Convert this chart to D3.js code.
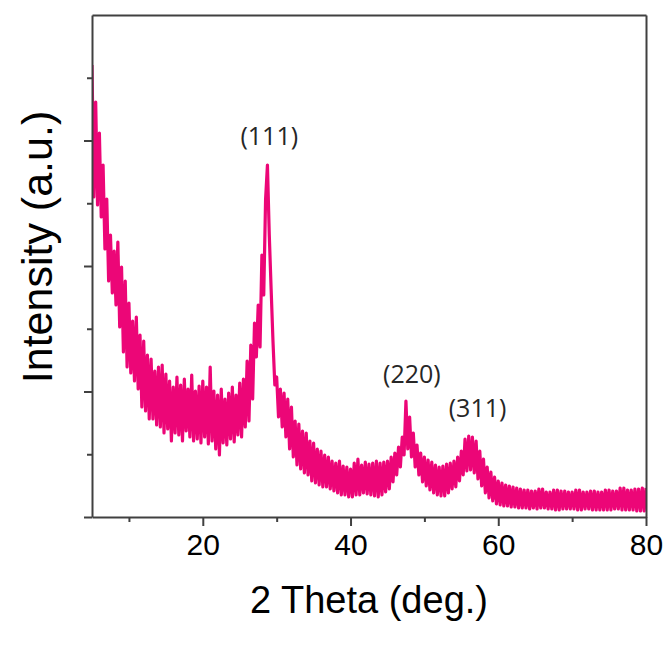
<!DOCTYPE html>
<html>
<head>
<meta charset="utf-8">
<script src="https://cdn.jsdelivr.net/npm/d3@7"></script>
<style>
  body { margin: 0; background: #fff; }
</style>
</head>
<body>
<div id="chart"></div>
<script>
// 2 theta sampled every 0.25 deg from 5 to 80
const thetaStart = 5, thetaStep = 0.25;

// intensity (a.u.), one row per degree
const intensity = [
  452, 320, 415, 312,   // 5
  384, 300, 352, 268,   // 6
  318, 236, 282, 224,   // 7
  266, 212, 275, 190,   // 8
  250, 165, 236, 150,   // 9
  214, 144, 196, 136,   // 10
  200, 128, 182, 110,   // 11
  176, 106, 162, 98,    // 12
  158, 98, 146, 92,     // 13
  150, 90, 152, 84,     // 14
  143, 88, 136, 76,     // 15
  130, 84, 140, 82,     // 16
  132, 76, 138, 86,     // 17
  128, 80, 142, 76,     // 18
  126, 78, 131, 74,     // 19
  136, 80, 130, 73,     // 20
  150, 76, 126, 68,     // 21
  122, 62, 128, 74,     // 22
  118, 72, 124, 78,     // 23
  130, 75, 122, 82,     // 24
  134, 80, 138, 90,     // 25
  156, 96, 172, 118,    // 26
  194, 160, 212, 170,   // 27
  262, 222, 318, 352,   // 28
  282, 228, 176, 132,   // 29
  140, 100, 128, 90,    // 30
  124, 80, 118, 68,     // 31
  110, 60, 96, 52,      // 32
  93, 48, 86, 44,       // 33
  84, 42, 76, 36,       // 34
  74, 34, 68, 32,       // 35
  66, 30, 62, 30,       // 36
  60, 28, 56, 26,       // 37
  54, 24, 56, 22,       // 38
  51, 22, 50, 20,       // 39
  48, 20, 54, 22,       // 40
  58, 22, 52, 24,       // 41
  55, 23, 53, 22,       // 42
  54, 21, 56, 20,       // 43
  54, 22, 55, 25,       // 44
  56, 28, 60, 35,       // 45
  64, 42, 70, 50,       // 46
  80, 62, 116, 68,      // 47
  100, 60, 84, 50,      // 48
  72, 42, 64, 35,       // 49
  60, 31, 57, 27,       // 50
  55, 24, 52, 22,       // 51
  50, 21, 51, 21,       // 52
  53, 24, 54, 28,       // 53
  56, 30, 60, 36,       // 54
  66, 42, 78, 46,       // 55
  81, 47, 80, 44,       // 56
  76, 38, 66, 31,       // 57
  58, 24, 50, 19,       // 58
  45, 16, 40, 13,       // 59
  36, 12, 34, 11,       // 60
  32, 11, 31, 10,       // 61
  30, 10, 29, 9,        // 62
  28, 9, 27, 9,         // 63
  27, 8, 26, 9,         // 64
  26, 8, 28, 9,         // 65
  28, 9, 25, 8,         // 66
  25, 8, 27, 7,         // 67
  27, 7, 26, 8,         // 68
  26, 8, 25, 8,         // 69
  25, 8, 27, 7,         // 70
  27, 7, 25, 8,         // 71
  25, 8, 26, 7,         // 72
  26, 7, 25, 7,         // 73
  25, 7, 27, 7,         // 74
  27, 7, 26, 8,         // 75
  26, 8, 29, 7,         // 76
  29, 7, 27, 7,         // 77
  27, 7, 28, 6,         // 78
  28, 6, 29, 6,         // 79
  29                    // 80
];

const peakLabels = ["(111)", "(220)", "(311)"];
const peakTheta = [29.0, 48.3, 57.2];
const peakTop = [372, 134, 100];

const xMajor = [20, 40, 60, 80];
const xMinor = [10, 30, 50, 70];

const svg = d3.select("#chart")
    .append("svg")
    .attr("width", 670)
    .attr("height", 648);

const x = d3.scaleLinear()
    .domain([5, 80])
    .range([92, 646]);

const y = d3.scaleLinear()
    .domain([0, 502])
    .range([517, 15]);

const data = intensity.map(function(v, i) {
    return {t: thetaStart + i * thetaStep, v: v};
});

const pink = "#ec0677";

svg.append("clipPath")
    .attr("id", "plot")
    .append("rect")
    .attr("x", 92).attr("y", 15)
    .attr("width", 554).attr("height", 502);

svg.append("path")
    .datum(data)
    .attr("clip-path", "url(#plot)")
    .attr("d", d3.line()
        .x(function(d) { return x(d.t); })
        .y(function(d) { return y(d.v); }))
    .attr("fill", "none")
    .attr("stroke", pink)
    .attr("stroke-width", 3.2)
    .attr("stroke-linejoin", "round");

const axisColor = "#404040";

// bottom axis, major + minor ticks
svg.append("g")
    .attr("transform", "translate(0,517)")
    .call(d3.axisBottom(x).tickValues(xMajor).tickSize(9).tickPadding(8).tickSizeOuter(0))
    .call(function(g) {
        g.select(".domain").attr("stroke", axisColor).attr("stroke-width", 2);
        g.selectAll(".tick line").attr("stroke", axisColor).attr("stroke-width", 2);
        g.selectAll(".tick text")
            .attr("fill", "#000")
            .attr("font-family", "Liberation Sans, Arial, sans-serif")
            .attr("font-size", "30px");
    });

svg.append("g")
    .attr("transform", "translate(0,517)")
    .call(d3.axisBottom(x).tickValues(xMinor).tickSize(5).tickFormat("").tickSizeOuter(0))
    .call(function(g) {
        g.select(".domain").remove();
        g.selectAll(".tick line").attr("stroke", axisColor).attr("stroke-width", 2);
    });

// left axis, no labels
svg.append("g")
    .attr("transform", "translate(92,0)")
    .call(d3.axisLeft(y).tickValues([0, 125.5, 251, 376.5]).tickSize(8).tickFormat("").tickSizeOuter(0))
    .call(function(g) {
        g.select(".domain").attr("stroke", axisColor).attr("stroke-width", 2);
        g.selectAll(".tick line").attr("stroke", axisColor).attr("stroke-width", 2);
    });

svg.append("g")
    .attr("transform", "translate(92,0)")
    .call(d3.axisLeft(y).tickValues([62.75, 188.25, 313.75, 439.25]).tickSize(5).tickFormat("").tickSizeOuter(0))
    .call(function(g) {
        g.select(".domain").remove();
        g.selectAll(".tick line").attr("stroke", axisColor).attr("stroke-width", 2);
    });

// top and right frame
svg.append("g")
    .attr("transform", "translate(0,15)")
    .call(d3.axisTop(x).tickValues([]).tickSizeOuter(0))
    .select(".domain").attr("stroke", axisColor).attr("stroke-width", 2);

svg.append("g")
    .attr("transform", "translate(646,0)")
    .call(d3.axisRight(y).tickValues([]).tickSizeOuter(0))
    .select(".domain").attr("stroke", axisColor).attr("stroke-width", 2);

// axis titles
svg.append("text")
    .attr("x", 369)
    .attr("y", 613)
    .attr("text-anchor", "middle")
    .attr("font-family", "Liberation Sans, Arial, sans-serif")
    .attr("font-size", "38px")
    .attr("fill", "#000")
    .text("2 Theta (deg.)");

svg.append("text")
    .attr("transform", "translate(52,247) rotate(-90)")
    .attr("text-anchor", "middle")
    .attr("font-family", "Liberation Sans, Arial, sans-serif")
    .attr("font-size", "43px")
    .attr("fill", "#000")
    .text("Intensity (a.u.)");

// peak labels
svg.selectAll(".peak")
    .data(peakLabels)
    .enter()
    .append("text")
    .attr("class", "peak")
    .attr("x", function(d, i) { return x(peakTheta[i]); })
    .attr("y", function(d, i) { return y(peakTop[i]); })
    .attr("text-anchor", "middle")
    .attr("font-family", "Open Sans, sans-serif")
    .attr("font-size", "25px")
    .attr("fill", "#262626")
    .text(function(d) { return d; });
</script>
</body>
</html>
